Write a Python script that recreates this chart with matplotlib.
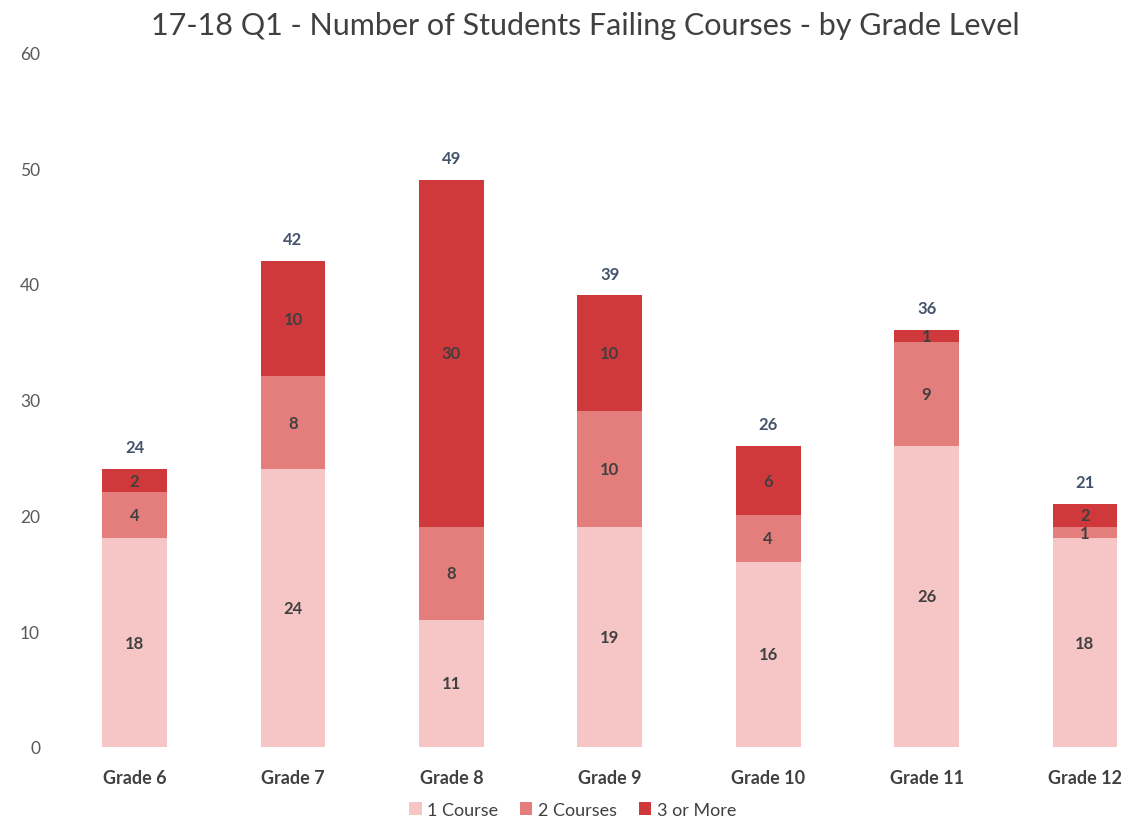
import numpy as np
import matplotlib
matplotlib.use("Agg")
import matplotlib.pyplot as plt

plt.rcParams['font.family'] = ['Lato', 'DejaVu Sans']

# data
grades = ['Grade 6', 'Grade 7', 'Grade 8', 'Grade 9', 'Grade 10', 'Grade 11', 'Grade 12']
one_course = [18, 24, 11, 19, 16, 26, 18]
two_courses = [4, 8, 8, 10, 4, 9, 1]
three_more = [2, 10, 30, 10, 6, 1, 2]
series_names = ['1 Course', '2 Courses', '3 or More']

colors = ['#F6C6C7', '#E47E7C', '#D0393B']

fig = plt.figure(figsize=(11.45, 8.2), dpi=100)
ax = fig.add_axes([0.052, 0.088, 0.944, 0.847])

x = np.arange(len(grades))
w = 0.41
bottom = np.zeros(len(grades))
for vals, c, name in zip([one_course, two_courses, three_more], colors, series_names):
    vals = np.array(vals)
    ax.bar(x, vals, w, bottom=bottom, color=c, label=name, edgecolor='none')
    for xi, b, v in zip(x, bottom, vals):
        ax.text(xi, b + v / 2, str(v), ha='center', va='center',
                fontsize=12, fontweight='bold', color='#404040')
    bottom = bottom + vals

# totals on top
for xi, t in zip(x, bottom):
    ax.annotate(str(int(t)), (xi, t), xytext=(0, 10), textcoords='offset points',
                ha='center', va='bottom', fontsize=12, fontweight='bold', color='#44546A')

ax.set_ylim(0, 60)
ax.set_xlim(-0.474, 6.35)
ax.set_yticks(range(0, 61, 10))
ax.set_xticks(x)
ax.set_xticklabels(grades, fontweight='bold', fontsize=13, color='#404040')
ax.tick_params(axis='y', labelsize=12.5, colors='#595959', length=0, pad=14)
ax.tick_params(axis='x', length=0, pad=16)
for s in ax.spines.values():
    s.set_visible(False)

fig.suptitle('17-18 Q1 - Number of Students Failing Courses - by Grade Level',
             fontsize=22, color='#404040', x=0.511, y=0.985)

fig.legend(loc='lower center', ncol=3, frameon=False, fontsize=13,
           bbox_to_anchor=(0.5, -0.018), handlelength=0.7, handleheight=0.7,
           columnspacing=1.2, handletextpad=0.3, labelcolor='#404040')

fig.savefig('out.png', dpi=100)
